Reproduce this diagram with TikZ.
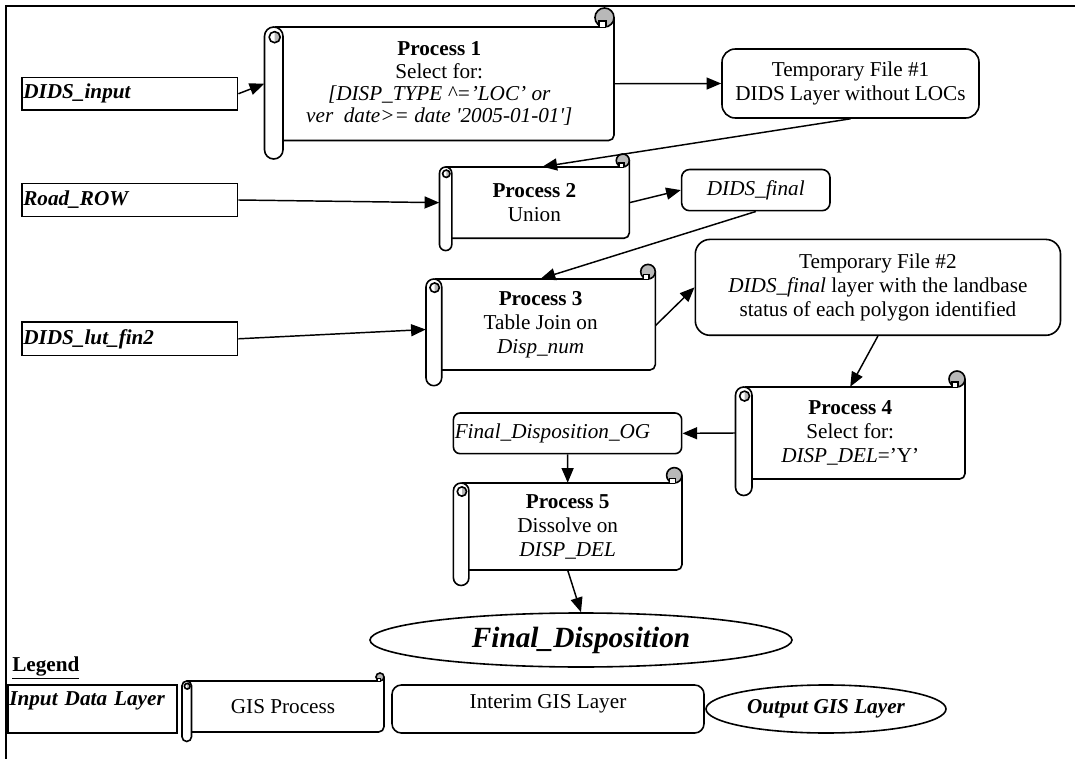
\documentclass[tikz,border=0pt]{standalone}
\usepackage{fontspec}
\setmainfont{Liberation Serif}
\usetikzlibrary{arrows.meta,calc,shapes.geometric}
\definecolor{curl}{gray}{0.72}
\newcommand\myfs{\fontsize{15.9pt}{18pt}\selectfont}
\tikzset{
  frameline/.style={line width=2pt},
  shp/.style={draw, line width=1.2pt},
  inbox/.style={shp, rectangle, inner xsep=1pt, inner ysep=0pt, align=left, font=\myfs\bfseries\itshape},
  rbox/.style={shp, rectangle, rounded corners=#1, inner sep=0pt, align=center, font=\myfs},
  oval/.style={shp, ellipse, inner sep=0pt},
  arr/.style={line width=1.1pt, -{Triangle[length=11pt,width=9pt]}},
  scrl/.style={line width=1.2pt},
  scrolltext/.style={draw=none, rectangle, inner sep=0pt, align=center, font=\myfs},
}
% #1 options, #2 name, #3 x1, #4 y1, #5 x2, #6 y2, #7 roll width, #8 curl radius, #9 text
\newcommand\scrollnode[9]{%
  \pgfmathsetmacro\sxa{#3}%
  \pgfmathsetmacro\sya{#4}%
  \pgfmathsetmacro\sxb{#5}%
  \pgfmathsetmacro\syb{#6}%
  \pgfmathsetmacro\sw{#7}%
  \pgfmathsetmacro\sr{#8}%
  \pgfmathsetmacro\sxr{\sxa+\sw}%
  \pgfmathsetmacro\srb{\syb+\sw}%
  \pgfmathsetmacro\scx{\sxb-\sr}%
  \pgfmathsetmacro\scy{\sya-\sr}%
  \pgfmathsetmacro\srad{0.5*\sw*0.75}%
  \pgfmathsetmacro\sW{(\sxb-\sxa)*0.75}%
  \pgfmathsetmacro\sH{(\syb-\sya)*0.75}%
  \pgfmathsetmacro\stx{(\sxa+\sxb)/2}%
  \pgfmathsetmacro\sty{(\sya+\syb)/2}%
  \pgfmathsetmacro\slr{0.3*\sw}%
  \pgfmathsetmacro\slx{\sxa+0.55*\sw}%
  \pgfmathsetmacro\sly{\sya+0.55*\sw}%
  \draw[scrl, rounded corners=4pt] (\sxb,\scy) -- (\sxb,\syb) -- (\sxr,\syb);
  \draw[scrl] (\slx,\sya) -- (\scx+0.15*\sr,\sya);
  \draw[scrl, fill=curl] (\scx,\scy) circle (\sr);
  \draw[scrl, fill=white] (\scx-0.6*\sr,\sya) -- (\scx-0.6*\sr,\scy+0.4*\sr) -- (\scx+0.15*\sr,\scy+0.4*\sr) -- (\scx+0.15*\sr,\sya);
  \draw[scrl, fill=white, rounded corners=\srad pt] (\sxa,\sya) rectangle (\sxr,\srb);
  \fill[curl] (\slx,\sly) circle (\slr);
  \fill[white] (\slx,\sly+\slr) arc[start angle=90, end angle=270, radius=\slr] -- cycle;
  \draw[scrl] (\slx,\sly) circle (\slr);
  \node[scrolltext, minimum width=\sW pt, minimum height=\sH pt, #1] (#2) at (\stx,\sty) {#9};
}
\begin{document}
\begin{tikzpicture}[x=0.75pt,y=-0.75pt]
\useasboundingbox (0,0) rectangle (1075,759);
\draw[frameline] (6,759) -- (6,6) -- (1075,6);

% input layers
\node[inbox, minimum width=161.7pt, text width=159.7pt, minimum height=24.4pt] (in1) at (129.8,93.75) {DIDS\_input};
\node[inbox, minimum width=161.7pt, text width=159.7pt, minimum height=24.8pt] (in2) at (129.8,200) {Road\_ROW};
\node[inbox, minimum width=161.7pt, text width=159.7pt, minimum height=25.2pt] (in3) at (129.8,338.8) {DIDS\_lut\_fin2};

% processes
\scrollnode{font=\fontsize{15.9pt}{16.8pt}\selectfont}{p1}{264.5}{27}{614}{140.5}{18.5}{9.5}{\textbf{Process 1}\\Select for:\\\textit{[DISP\_TYPE \textasciicircum='LOC' or}\\\textit{ver\ \ date>= date \textquotesingle2005-01-01\textquotesingle]}}
\scrollnode{}{p2}{439.5}{167}{629.3}{238.3}{12.3}{6.5}{\textbf{Process 2}\\Union}
\scrollnode{}{p3}{426}{279}{655.3}{370}{15.7}{7.3}{\textbf{Process 3}\\Table Join on\\\textit{Disp\_num}}
\scrollnode{}{p4}{735.5}{387}{965}{479}{16.5}{8}{\textbf{Process 4}\\Select for:\\\textit{DISP\_DEL}='Y'}
\scrollnode{}{p5}{453.4}{483}{682}{570}{15.5}{7.7}{\textbf{Process 5}\\Dissolve on\\\textit{DISP\_DEL}}

% interim layers
\node[rbox=10pt, minimum width=192.75pt, minimum height=51.75pt] (t1) at (850.5,83.5) {Temporary File \#1\\DIDS Layer without LOCs};
\node[rbox=6pt, minimum width=111.3pt, minimum height=30.9pt] (fin) at (755.8,190.1) {\textit{DIDS\_final}};
\node[rbox=11pt, minimum width=273.9pt, minimum height=71.9pt] (t2) at (877.9,287.35) {Temporary File \#2\\\textit{DIDS\_final} layer with the landbase\\status of each polygon identified};
\node[rbox=5pt, minimum width=171.2pt, minimum height=30.5pt, text width=169.2pt, inner xsep=1pt, align=left] (og) at (567.55,433.35) {\textit{Final\_Disposition\_OG}};

% output
\node[oval, minimum width=316.5pt, minimum height=40.5pt, font=\fontsize{22pt}{24pt}\selectfont\bfseries\itshape] (fd) at (581,640) {Final\_Disposition};

% connectors
\draw[arr] (in1.east) -- (p1.west);
\draw[arr] (p1.east) -- (t1.west);
\draw[arr] (t1.south) -- ($(p2.north)+(8,0)$);
\draw[arr] (in2.east) -- (p2.west);
\draw[arr] (p2.east) -- (fin.west);
\draw[arr] (fin.south) -- (p3.north);
\draw[arr] (in3.east) -- ($(p3.west)+(0,5)$);
\draw[arr] ($(p3.east)+(0,1)$) -- (t2.west);
\draw[arr] (t2.south) -- (p4.north);
\draw[arr] (p4.west) -- (og.east);
\draw[arr] (og.south) -- (p5.north);
\draw[arr] (p5.south) -- (fd.north);

% legend
\node[font=\myfs\bfseries, anchor=west, inner sep=0pt] (leg) at (12,668) {\underline{Legend}};
\node[inbox, minimum width=126.75pt, text width=124.75pt, minimum height=36pt, text depth=16pt] (lin) at (92.5,709) {Input Data Layer};
\scrollnode{}{lgp}{182}{681}{384}{732}{9.5}{4}{GIS Process}
\node[rbox=7pt, minimum width=234pt, minimum height=36pt, text depth=12pt] (lint) at (548,709) {Interim GIS Layer};
\node[oval, minimum width=180pt, minimum height=36pt, font=\myfs\bfseries\itshape] (lout) at (826,709) {Output GIS Layer};
\end{tikzpicture}
\end{document}
